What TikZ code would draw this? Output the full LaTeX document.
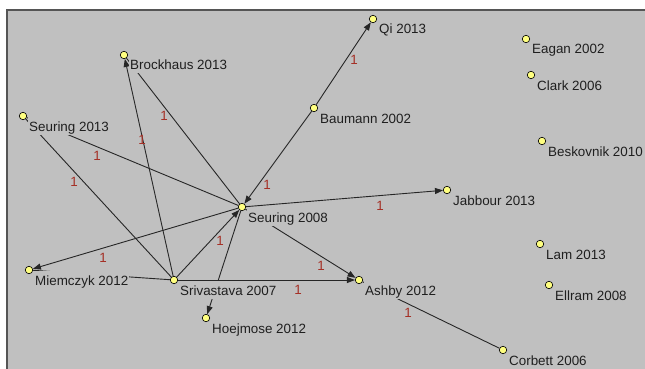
\documentclass[tikz,border=0pt]{standalone}
\usepackage{fontspec}
\setmainfont{Liberation Sans}
\usetikzlibrary{arrows.meta}
\definecolor{bgc}{RGB}{192,192,192}
\definecolor{framec}{RGB}{85,85,85}
\definecolor{vtxc}{RGB}{255,255,128}
\definecolor{wtc}{RGB}{165,48,38}
\begin{document}
\begin{tikzpicture}[x=1pt,y=-1pt,
  vtx/.style={circle,draw=black,line width=0.6pt,fill=vtxc,minimum size=7.5pt,inner sep=0pt},
  lbl/.style={anchor=base west,fill=bgc,inner xsep=1pt,inner ysep=0pt,text height=14pt,text depth=3.5pt,font=\fontsize{13.4}{15}\selectfont,text=black!88},
  wlbl/.style={font=\fontsize{13.4}{15}\selectfont,text=wtc,inner sep=0pt},
  lnk/.style={draw=black!85,line width=0.9pt},
  arr/.style={lnk,-{Triangle[length=8pt,width=6pt]}}
]
\useasboundingbox (0,0) rectangle (645,369);
\fill[white] (0,0) rectangle (645,369);
\fill[bgc] (6,9) rectangle (645,369);
\draw[framec,line width=2pt] (7,369) -- (7,10) -- (645,10);

% vertices
\node[vtx] (brock) at (124,55) {};
\node[vtx] (seu13) at (23,116) {};
\node[vtx] (qi) at (373,19) {};
\node[vtx] (eagan) at (526,39) {};
\node[vtx] (clark) at (531,75) {};
\node[vtx] (baum) at (314,108) {};
\node[vtx] (besk) at (542,141) {};
\node[vtx] (seu08) at (242,207) {};
\node[vtx] (jab) at (447,190) {};
\node[vtx] (lam) at (540,244) {};
\node[vtx] (ellram) at (549,285) {};
\node[vtx] (ashby) at (359,280) {};
\node[vtx] (corb) at (503,350) {};
\node[vtx] (miem) at (29,270) {};
\node[vtx] (sriv) at (174,280) {};
\node[vtx] (hoej) at (206,318) {};

% ties
\draw[lnk] (brock) -- (seu08);
\draw[arr] (sriv) -- (brock);
\draw[lnk] (seu13) -- (seu08);
\draw[lnk] (seu13) -- (sriv);
\draw[arr] (baum) -- (qi);
\draw[arr] (baum) -- (seu08);
\draw[arr] (seu08) -- (jab);
\draw[arr] (seu08) -- (miem);
\draw[arr] (seu08) -- (ashby);
\draw[arr] (sriv) -- (seu08);
\draw[arr] (seu08) -- (hoej);
\draw[lnk] (miem) -- (sriv);
\draw[arr] (sriv) -- (ashby);
\draw[lnk] (ashby) -- (corb);

% vertex labels
\node[lbl] (tbrock) at (129,70) {Brockhaus 2013};
\node[lbl] (tseu13) at (28,131) {Seuring 2013};
\node[lbl] (tqi) at (378,34) {Qi 2013};
\node[lbl] (teagan) at (531,54) {Eagan 2002};
\node[lbl] (tclark) at (536,90) {Clark 2006};
\node[lbl] (tbaum) at (319,123) {Baumann 2002};
\node[lbl] (tbesk) at (547,156) {Beskovnik 2010};
\node[lbl] (tseu08) at (247,222) {Seuring 2008};
\node[lbl] (tjab) at (452,205) {Jabbour 2013};
\node[lbl] (tlam) at (545,259) {Lam 2013};
\node[lbl] (tellram) at (554,300) {Ellram 2008};
\node[lbl] (tashby) at (364,295) {Ashby 2012};
\node[lbl] (tcorb) at (508,365) {Corbett 2006};
\node[lbl] (tmiem) at (34,285) {Miemczyk 2012};
\node[lbl] (tsriv) at (179,295) {Srivastava 2007};
\node[lbl] (thoej) at (211,333) {Hoejmose 2012};

% tie values
\node[wlbl] (w1) at (164,116) {1};
\node[wlbl] (w2) at (142,140) {1};
\node[wlbl] (w3) at (97,156) {1};
\node[wlbl] (w4) at (74,182) {1};
\node[wlbl] (w5) at (354,60) {1};
\node[wlbl] (w6) at (267,185) {1};
\node[wlbl] (w7) at (380,206) {1};
\node[wlbl] (w8) at (103,258) {1};
\node[wlbl] (w9) at (321,266) {1};
\node[wlbl] (w10) at (220,241) {1};
\node[wlbl] (w11) at (298,290) {1};
\node[wlbl] (w12) at (408,313) {1};
\end{tikzpicture}
\end{document}
